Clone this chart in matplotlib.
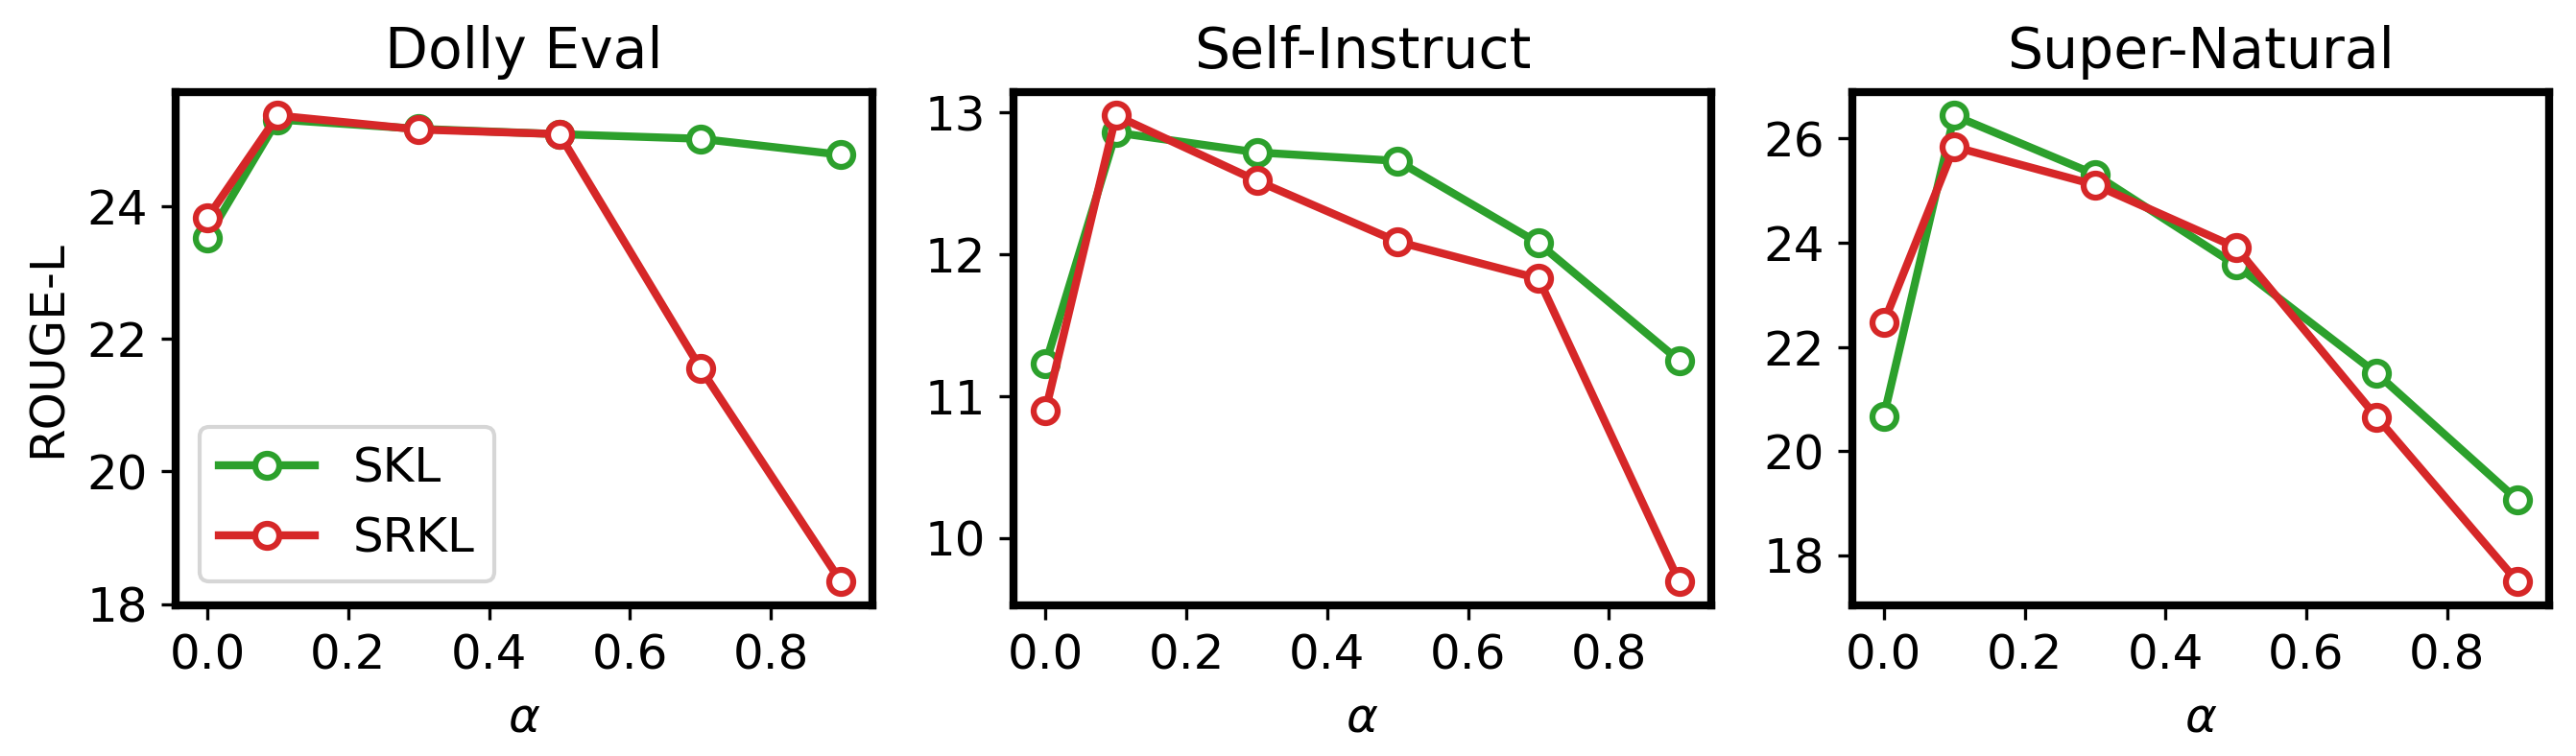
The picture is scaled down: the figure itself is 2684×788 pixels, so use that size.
import matplotlib
matplotlib.use("Agg")
import matplotlib.pyplot as plt
import numpy as np

alpha = [0.0, 0.1, 0.3, 0.5, 0.7, 0.9]

titles = ["Dolly Eval", "Self-Instruct", "Super-Natural"]

skl = [
    [23.52, 25.30, 25.16, 25.08, 25.01, 24.77],   # Dolly Eval
    [11.23, 12.86, 12.72, 12.66, 12.08, 11.25],   # Self-Instruct
    [20.67, 26.44, 25.31, 23.57, 21.49, 19.06],   # Super-Natural
]
srkl = [
    [23.82, 25.36, 25.15, 25.08, 21.56, 18.34],
    [10.90, 12.98, 12.52, 12.09, 11.83, 9.69],
    [22.47, 25.84, 25.11, 23.91, 20.65, 17.49],
]

#====================================================
#                     Plot
#====================================================

fig, axes = plt.subplots(1, 3, figsize=(2684/300, 788/300), dpi=300)
plt.subplots_adjust(left=0.0682, right=0.9896, top=0.878, bottom=0.1996, wspace=0.2025)

for k, ax in enumerate(axes):
    ax.plot(alpha, skl[k], linestyle='-', linewidth=2, color="tab:green", marker='o',
            markersize=6, markerfacecolor="white", markeredgewidth=1.5, label="SKL")
    ax.plot(alpha, srkl[k], linestyle='-', linewidth=2, color="tab:red", marker='o',
            markersize=6, markerfacecolor="white", markeredgewidth=1.5, label="SRKL")
    ax.set_title(titles[k], fontsize=14)
    ax.set_xlabel(r"$\alpha$", fontsize=12)
    ax.tick_params(labelsize=12)
    ax.set_xticks([0.0, 0.2, 0.4, 0.6, 0.8])
    for sp in ax.spines.values():
        sp.set_linewidth(2)

axes[0].set_ylabel("ROUGE-L", fontsize=12)
axes[0].set_yticks([18, 20, 22, 24])
axes[1].set_yticks([10, 11, 12, 13])
axes[2].set_yticks([18, 20, 22, 24, 26])
axes[0].legend(loc='lower left', fontsize=12)

plt.savefig("out.png", dpi=300)
plt.close(fig)
